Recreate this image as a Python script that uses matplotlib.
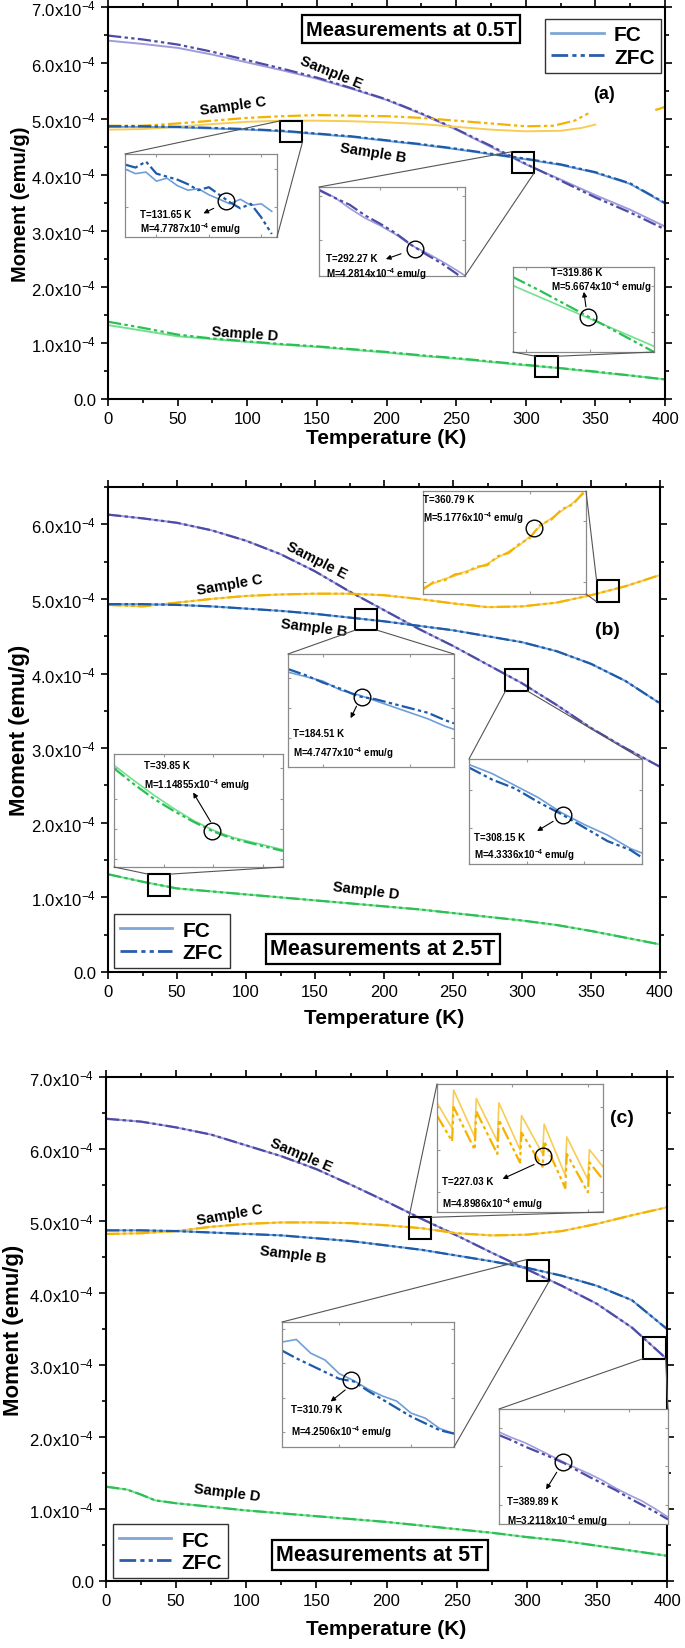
import numpy as np
import matplotlib
matplotlib.use('Agg')
import matplotlib.pyplot as plt
from matplotlib.lines import Line2D
from matplotlib.patches import Rectangle, ConnectionPatch
from matplotlib.ticker import MultipleLocator, FuncFormatter

plt.rcParams['font.family'] = ['Liberation Sans', 'DejaVu Sans']
plt.rcParams['mathtext.default'] = 'regular'

# ---------------- data (moment in units of 1e-4 emu/g) ----------------
T16 = [0, 25, 50, 75, 100, 125, 150, 175, 200, 225, 250, 275, 300, 325, 350, 375, 400]

# panel (a) 0.5 T
E_a_fc = [6.40, 6.34, 6.27, 6.15, 6.01, 5.87, 5.72, 5.54, 5.34, 5.09, 4.81, 4.50, 4.19, 3.92, 3.64, 3.38, 3.08]
E_a_zfc = [6.49, 6.42, 6.33, 6.20, 6.05, 5.90, 5.74, 5.55, 5.35, 5.10, 4.82, 4.52, 4.20, 3.90, 3.60, 3.33, 3.03]
C_a_T_fc = [0, 25, 50, 75, 100, 125, 150, 175, 200, 225, 250, 275, 300, 325, 340, 350]
C_a_fc = [4.81, 4.82, 4.86, 4.91, 4.95, 4.97, 4.97, 4.96, 4.94, 4.91, 4.86, 4.81, 4.78, 4.79, 4.84, 4.90]
C_a_T_zfc = [0, 25, 50, 75, 100, 125, 150, 175, 200, 225, 250, 275, 300, 320, 335, 345]
C_a_zfc = [4.88, 4.88, 4.92, 4.97, 5.02, 5.05, 5.07, 5.06, 5.05, 5.02, 4.97, 4.92, 4.87, 4.88, 4.97, 5.10]
C_a_tail_T = [393, 397, 400]
C_a_tail = [5.16, 5.19, 5.22]
B_a_fc = [4.86, 4.86, 4.85, 4.83, 4.81, 4.78, 4.73, 4.68, 4.61, 4.54, 4.46, 4.37, 4.28, 4.18, 4.04, 3.84, 3.49]
B_a_zfc = [4.87, 4.87, 4.86, 4.84, 4.82, 4.79, 4.74, 4.69, 4.62, 4.55, 4.47, 4.38, 4.29, 4.19, 4.05, 3.85, 3.50]
D_a_fc = [1.32, 1.22, 1.12, 1.07, 1.02, 0.97, 0.93, 0.88, 0.83, 0.77, 0.72, 0.66, 0.60, 0.55, 0.48, 0.42, 0.35]
D_a_zfc = [1.38, 1.27, 1.15, 1.08, 1.03, 0.98, 0.94, 0.89, 0.84, 0.78, 0.73, 0.67, 0.61, 0.55, 0.49, 0.42, 0.35]

# panel (b) 2.5 T
E_b = [6.13, 6.08, 6.02, 5.92, 5.78, 5.60, 5.37, 5.10, 4.85, 4.60, 4.37, 4.12, 3.87, 3.58, 3.27, 3.00, 2.75]
C_b = [4.92, 4.90, 4.95, 5.00, 5.04, 5.06, 5.07, 5.07, 5.05, 5.00, 4.94, 4.89, 4.90, 4.95, 5.05, 5.17, 5.32]
B_b = [4.93, 4.93, 4.92, 4.90, 4.87, 4.84, 4.80, 4.75, 4.70, 4.64, 4.58, 4.50, 4.42, 4.30, 4.13, 3.90, 3.60]
D_b = [1.31, 1.21, 1.12, 1.08, 1.04, 1.00, 0.96, 0.92, 0.88, 0.84, 0.79, 0.74, 0.69, 0.63, 0.55, 0.46, 0.37]

# panel (c) 5 T
E_c = [6.42, 6.38, 6.30, 6.20, 6.05, 5.90, 5.72, 5.50, 5.27, 5.03, 4.80, 4.56, 4.33, 4.10, 3.85, 3.52, 3.08]
C_c = [4.82, 4.83, 4.86, 4.92, 4.96, 4.98, 4.98, 4.97, 4.94, 4.90, 4.83, 4.80, 4.81, 4.86, 4.96, 5.08, 5.19]
B_c = [4.87, 4.87, 4.86, 4.84, 4.82, 4.80, 4.76, 4.72, 4.66, 4.60, 4.52, 4.44, 4.35, 4.24, 4.10, 3.90, 3.50]
D_c_T = [0, 15, 25, 35, 50, 75, 100, 125, 150, 175, 200, 225, 250, 275, 300, 325, 350, 375, 400]
D_c = [1.31, 1.27, 1.20, 1.12, 1.08, 1.03, 0.98, 0.94, 0.90, 0.86, 0.82, 0.77, 0.72, 0.67, 0.61, 0.56, 0.49, 0.42, 0.35]

# zoom insets
a1_T = [122, 123, 124, 125, 126, 127, 128, 129, 130, 131, 132, 133, 134, 135, 136]
a1_fc = [4.800, 4.797, 4.798, 4.792, 4.794, 4.789, 4.786, 4.787, 4.783, 4.780, 4.777, 4.780, 4.776, 4.777, 4.772]
a1_zfc = [4.803, 4.801, 4.805, 4.797, 4.795, 4.793, 4.790, 4.786, 4.788, 4.783, 4.778, 4.774, 4.777, 4.768, 4.757]
a2_T = [286, 287, 288, 289, 290, 291, 292, 293, 294, 295, 295.5]
a2_fc = [4.415, 4.397, 4.372, 4.350, 4.333, 4.313, 4.289, 4.272, 4.253, 4.232, 4.221]
a2_zfc = [4.413, 4.396, 4.380, 4.356, 4.337, 4.316, 4.290, 4.268, 4.248, 4.224, 4.208]
a3_T = [314, 316, 318, 320, 322, 324, 325]
a3_fc = [0.5801, 0.5753, 0.5705, 0.5657, 0.5609, 0.5561, 0.5537]
a3_zfc = [0.5838, 0.5782, 0.5722, 0.5662, 0.5602, 0.5542, 0.5512]
b1_T = [340, 342, 344, 346, 348, 350, 352, 354, 356, 358, 360, 362, 364, 366, 368, 370]
b1_fc = [4.980, 4.995, 5.010, 5.020, 5.035, 5.045, 5.060, 5.080, 5.100, 5.120, 5.150, 5.185, 5.210, 5.235, 5.260, 5.290]
b1_zfc = [4.975, 5.000, 5.005, 5.025, 5.030, 5.050, 5.055, 5.085, 5.095, 5.125, 5.145, 5.190, 5.205, 5.240, 5.255, 5.295]
b2_T = [176, 178, 180, 182, 184, 186, 188, 190, 192, 194, 195]
b2_fc = [4.764, 4.761, 4.758, 4.752, 4.749, 4.745, 4.741, 4.737, 4.733, 4.728, 4.726]
b2_zfc = [4.766, 4.762, 4.757, 4.753, 4.748, 4.746, 4.743, 4.740, 4.737, 4.732, 4.730]
b3_T = [300, 302, 304, 306, 308, 310, 312, 314, 315]
b3_fc = [4.367, 4.361, 4.353, 4.345, 4.335, 4.327, 4.320, 4.311, 4.308]
b3_zfc = [4.365, 4.357, 4.351, 4.342, 4.334, 4.325, 4.316, 4.310, 4.305]
b4_T = [30, 32, 34, 36, 38, 40, 42, 44, 46, 47]
b4_fc = [1.2025, 1.190, 1.178, 1.167, 1.157, 1.149, 1.143, 1.139, 1.135, 1.133]
b4_zfc = [1.200, 1.187, 1.175, 1.165, 1.156, 1.148, 1.142, 1.138, 1.134, 1.132]
c1_T = [220, 221, 221.1, 222.5, 222.6, 224, 224.1, 225.5, 225.6, 227, 227.1, 228.5, 228.6, 230, 230.1, 231]
c1_fc = [4.911, 4.905, 4.914, 4.903, 4.912, 4.902, 4.911, 4.900, 4.908, 4.899, 4.906, 4.894, 4.903, 4.893, 4.900, 4.896]
c1_zfc = [4.908, 4.902, 4.910, 4.900, 4.909, 4.899, 4.907, 4.897, 4.904, 4.896, 4.902, 4.891, 4.899, 4.890, 4.897, 4.893]
c2_T = [306, 307, 308, 309, 310, 311, 312, 313, 314, 315, 316, 317, 318]
c2_fc = [4.2725, 4.274, 4.266, 4.262, 4.254, 4.250, 4.245, 4.241, 4.238, 4.231, 4.228, 4.222, 4.219]
c2_zfc = [4.2675, 4.263, 4.259, 4.255, 4.251, 4.2495, 4.244, 4.239, 4.234, 4.229, 4.225, 4.221, 4.219]
c3_T = [385, 386, 387, 388, 389, 390, 391, 392, 393, 394, 395, 396, 397, 398]
c3_fc = [3.290, 3.275, 3.262, 3.245, 3.228, 3.211, 3.195, 3.180, 3.163, 3.143, 3.126, 3.110, 3.090, 3.068]
c3_zfc = [3.282, 3.268, 3.252, 3.238, 3.224, 3.209, 3.190, 3.172, 3.155, 3.138, 3.118, 3.100, 3.082, 3.062]

# colours
E_col = ('#a09cdc', '#4c4ca6')
C_col = ('#f8cc55', '#f3b300')
B_col = ('#6f9fd8', '#1d5aa8')
D_col = ('#74e08f', '#2bbf55')
ZFC_LS = (0, (6, 1.5, 1.5, 1.5, 1.5, 1.5))

W, H = 685, 1649
fig = plt.figure(figsize=(W / 100, H / 100), dpi=100)


def rect(x0, y0, x1, y1):
    return [x0 / W, 1 - y1 / H, (x1 - x0) / W, (y1 - y0) / H]


def ylab(v, pos):
    if abs(v) < 1e-9:
        return '0.0'
    return '%.1fx10$^{-4}$' % v


def setup(ax, ymax, ylc, ysize):
    ax.set_xlim(0, 400)
    ax.set_ylim(0, ymax)
    ax.xaxis.set_major_locator(MultipleLocator(50))
    ax.xaxis.set_minor_locator(MultipleLocator(25))
    ax.yaxis.set_major_locator(MultipleLocator(1))
    ax.yaxis.set_minor_locator(MultipleLocator(0.5))
    ax.yaxis.set_major_formatter(FuncFormatter(ylab))
    ax.tick_params(which='both', direction='out', top=True, right=True, width=1.2, labelsize=12)
    ax.tick_params(which='major', length=5)
    ax.tick_params(which='minor', length=3)
    for s in ax.spines.values():
        s.set_linewidth(1.5)
    ax.set_xlabel('Temperature (K)', fontsize=15, fontweight='bold')
    ax.set_ylabel('Moment (emu/g)', fontsize=ysize, fontweight='bold')
    ax.yaxis.set_label_coords(ylc, 0.5)
    ax.xaxis.set_label_coords(0.5, -0.075)


def curve(ax, T, fc, zfc, col):
    ax.plot(T, fc, color=col[0], lw=1.4)
    ax.plot(T, zfc, color=col[1], lw=1.6, ls=ZFC_LS)


def legend(ax, loc, anchor):
    h = [Line2D([], [], color='#7fa6d6', lw=2), Line2D([], [], color='#2d5da8', lw=2, ls=ZFC_LS)]
    lg = ax.legend(h, ['FC', 'ZFC'], loc=loc, bbox_to_anchor=anchor, borderaxespad=0,
                   handlelength=2.5, handletextpad=0.5, labelspacing=0.15,
                   borderpad=0.3, fancybox=False, framealpha=1, edgecolor='#333333',
                   prop={'weight': 'bold', 'size': 15})
    lg.get_frame().set_linewidth(1.0)


def title(x, y, s, size):
    fig.text(x / W, 1 - y / H, s, ha='center', va='center', fontsize=size, fontweight='bold',
             bbox=dict(boxstyle='square,pad=0.2', fc='white', ec='black', lw=1.6))


def zoom(ax, T, fc, zfc, col, rpx, xlim, ylim, pt, txt, txy, arrow, bc, bsize, links):
    ins = fig.add_axes(rect(*rpx))
    ins.plot(T, fc, color=col[0], lw=1.2)
    ins.plot(T, zfc, color=col[1], lw=1.6, ls=ZFC_LS)
    ins.set_xlim(xlim)
    ins.set_ylim(ylim)
    ins.plot([pt[0]], [pt[1]], 'o', ms=12, mfc='none', mec='black', mew=1.0)
    ins.tick_params(which='both', direction='in', length=2, color='#999999',
                    labelbottom=False, labelleft=False, top=True, right=True)
    for s in ins.spines.values():
        s.set_color('#8a8a8a')
        s.set_linewidth(0.9)
    ins.text(txy[0], txy[1], 'T=%s K' % txt[0], transform=ins.transAxes, fontsize=7, fontweight='bold', va='center')
    ins.text(txy[0], txy[1] - 0.17, 'M=%sx10$^{-4}$ emu/g' % txt[1], transform=ins.transAxes,
             fontsize=7, fontweight='bold', va='center')
    if arrow is not None:
        ins.annotate('', xy=arrow[1], xytext=arrow[0], xycoords='axes fraction', textcoords='axes fraction',
                     arrowprops=dict(arrowstyle='-|>', color='black', lw=0.8, mutation_scale=7))
    # zoom box on the main axes
    bw, bh = bsize
    x0, y0 = bc[0] - bw / 2, bc[1] - bh / 2
    ax.add_patch(Rectangle((x0, y0), bw, bh, fill=False, ec='black', lw=1.5, zorder=6))
    corners_box = {'tl': (x0, y0 + bh), 'tr': (x0 + bw, y0 + bh), 'bl': (x0, y0), 'br': (x0 + bw, y0)}
    corners_ins = {'tl': (0, 1), 'tr': (1, 1), 'bl': (0, 0), 'br': (1, 0)}
    for a, b in links:
        cp = ConnectionPatch(xyA=corners_box[a], coordsA='data', axesA=ax,
                             xyB=corners_ins[b], coordsB='axes fraction', axesB=ins,
                             color='#555555', lw=0.8)
        fig.add_artist(cp)


def sample(ax, x, y, s, rot):
    ax.text(x, y, s, fontsize=10.5, fontweight='bold', rotation=rot, ha='center', va='center',
            rotation_mode='anchor')


# ---------------- panel (a) ----------------
ax_a = fig.add_axes(rect(108, 8, 665, 400))
setup(ax_a, 7, -0.14, 14.5)
curve(ax_a, T16, E_a_fc, E_a_zfc, E_col)
ax_a.plot(C_a_T_fc, C_a_fc, color=C_col[0], lw=1.4)
ax_a.plot(C_a_T_zfc, C_a_zfc, color=C_col[1], lw=1.6, ls=ZFC_LS)
ax_a.plot(C_a_tail_T, C_a_tail, color=C_col[1], lw=1.6, ls=ZFC_LS)
curve(ax_a, T16, B_a_fc, B_a_zfc, B_col)
curve(ax_a, T16, D_a_fc, D_a_zfc, D_col)
sample(ax_a, 160, 5.84, 'Sample E', -22)
sample(ax_a, 90, 5.24, 'Sample C', 8)
sample(ax_a, 190, 4.41, 'Sample B', -9)
sample(ax_a, 98, 1.18, 'Sample D', -4)
ax_a.text(0.89, 0.78, '(a)', transform=ax_a.transAxes, fontsize=13, fontweight='bold', ha='center', va='center')
legend(ax_a, 'upper left', (0.785, 0.969))
title(411, 30, 'Measurements at 0.5T', 14.5)

zoom(ax_a, a1_T, a1_fc, a1_zfc, B_col, (125, 155, 277, 238), (122, 136.5), (4.755, 4.81),
     (131.65, 4.7787), ('131.65', '4.7787'), (0.1, 0.28), ((0.6, 0.36), (0.5, 0.27)),
     (131.65, np.interp(131.65, T16, B_a_zfc)), (16, 0.38), [('tl', 'tl'), ('br', 'br')])
zoom(ax_a, a2_T, a2_fc, a2_zfc, E_col, (319, 188, 465, 277), (286, 295.5), (4.22, 4.42),
     (292.27, 4.2814), ('292.27', '4.2814'), (0.05, 0.2), ((0.58, 0.26), (0.44, 0.18)),
     (298, np.interp(298, T16, E_a_zfc)), (16, 0.38), [('tl', 'tl'), ('br', 'br')])
zoom(ax_a, a3_T, a3_fc, a3_zfc, D_col, (513, 268, 654, 353), (314, 325), (0.5512, 0.5882),
     (319.86, 0.5666), ('319.86', '5.6674'), (0.27, 0.94), ((0.52, 0.5), (0.5, 0.74)),
     (315, np.interp(315, T16, D_a_zfc)), (16, 0.38), [('tl', 'bl'), ('tr', 'br')])

# ---------------- panel (b) ----------------
ax_b = fig.add_axes(rect(108, 488, 660, 973))
setup(ax_b, 6.5, -0.141, 16)
for data, col in [(E_b, E_col), (C_b, C_col), (B_b, B_col), (D_b, D_col)]:
    curve(ax_b, T16, data, data, col)
sample(ax_b, 151, 5.52, 'Sample E', -27)
sample(ax_b, 88, 5.19, 'Sample C', 10)
sample(ax_b, 149, 4.62, 'Sample B', -7)
sample(ax_b, 187, 1.10, 'Sample D', -7)
ax_b.text(0.905, 0.707, '(b)', transform=ax_b.transAxes, fontsize=14, fontweight='bold', ha='center', va='center')
legend(ax_b, 'lower left', (0.011, 0.008))
title(383, 950, 'Measurements at 2.5T', 15.5)

zoom(ax_b, b1_T, b1_fc, b1_zfc, C_col, (423, 492, 586, 595), (340, 370.5), (4.96, 5.30),
     (360.79, 5.1776), ('360.79', '5.1776'), (0.0, 0.92), None,
     (362, np.interp(362, T16, C_b)), (16, 0.29), [('tl', 'tr'), ('bl', 'br')])
zoom(ax_b, b2_T, b2_fc, b2_zfc, B_col, (288, 655, 454, 768), (176, 195), (4.701, 4.776),
     (184.51, 4.7477), ('184.51', '4.7477'), (0.03, 0.3), ((0.42, 0.56), (0.37, 0.41)),
     (187, np.interp(187, T16, B_b)), (16, 0.29), [('bl', 'tl'), ('br', 'tr')])
zoom(ax_b, b3_T, b3_fc, b3_zfc, B_col, (469, 760, 642, 865), (300, 315), (4.3007, 4.3707),
     (308.15, 4.3336), ('308.15', '4.3336'), (0.03, 0.26), ((0.5, 0.42), (0.38, 0.3)),
     (296, np.interp(296, T16, E_b)), (16, 0.29), [('bl', 'tl'), ('br', 'tr')])
zoom(ax_b, b4_T, b4_fc, b4_zfc, D_col, (114, 755, 283, 868), (30, 47), (1.1188, 1.2118),
     (39.85, 1.14855), ('39.85', '1.14855'), (0.18, 0.9), ((0.58, 0.38), (0.46, 0.68)),
     (37, np.interp(37, T16, D_b)), (16, 0.29), [('tl', 'bl'), ('tr', 'br')])

# ---------------- panel (c) ----------------
ax_c = fig.add_axes(rect(106, 1078, 667, 1582))
setup(ax_c, 7, -0.146, 16)
for data, col in [(E_c, E_col), (C_c, C_col), (B_c, B_col)]:
    curve(ax_c, T16, data, data, col)
curve(ax_c, D_c_T, D_c, D_c, D_col)
sample(ax_c, 139, 5.93, 'Sample E', -23)
sample(ax_c, 88, 5.09, 'Sample C', 10)
sample(ax_c, 133, 4.54, 'Sample B', -7)
sample(ax_c, 86, 1.24, 'Sample D', -7)
ax_c.text(0.92, 0.92, '(c)', transform=ax_c.transAxes, fontsize=14, fontweight='bold', ha='center', va='center')
legend(ax_c, 'lower left', (0.012, 0.006))
title(380, 1556, 'Measurements at 5T', 15.5)

zoom(ax_c, c1_T, c1_fc, c1_zfc, C_col, (437, 1085, 603, 1213), (220, 231), (4.8854, 4.9154),
     (227.03, 4.8986), ('227.03', '4.8986'), (0.03, 0.24), ((0.6, 0.38), (0.38, 0.25)),
     (224, np.interp(224, T16, C_c)), (16, 0.3), [('tl', 'tl'), ('tr', 'br')])
zoom(ax_c, c2_T, c2_fc, c2_zfc, B_col, (282, 1323, 454, 1448), (306, 318), (4.2112, 4.2842),
     (310.79, 4.2506), ('310.79', '4.2506'), (0.05, 0.3), ((0.38, 0.47), (0.27, 0.35)),
     (308, np.interp(308, T16, B_c)), (16, 0.3), [('tl', 'tl'), ('br', 'br')])
zoom(ax_c, c3_T, c3_fc, c3_zfc, E_col, (499, 1410, 668, 1525), (385, 398), (3.05, 3.35),
     (389.89, 3.2118), ('389.89', '3.2118'), (0.05, 0.2), ((0.35, 0.47), (0.27, 0.28)),
     (391, np.interp(391, T16, E_c)), (16, 0.3), [('bl', 'tl'), ('br', 'tr')])

fig.savefig('out.png', dpi=100)
